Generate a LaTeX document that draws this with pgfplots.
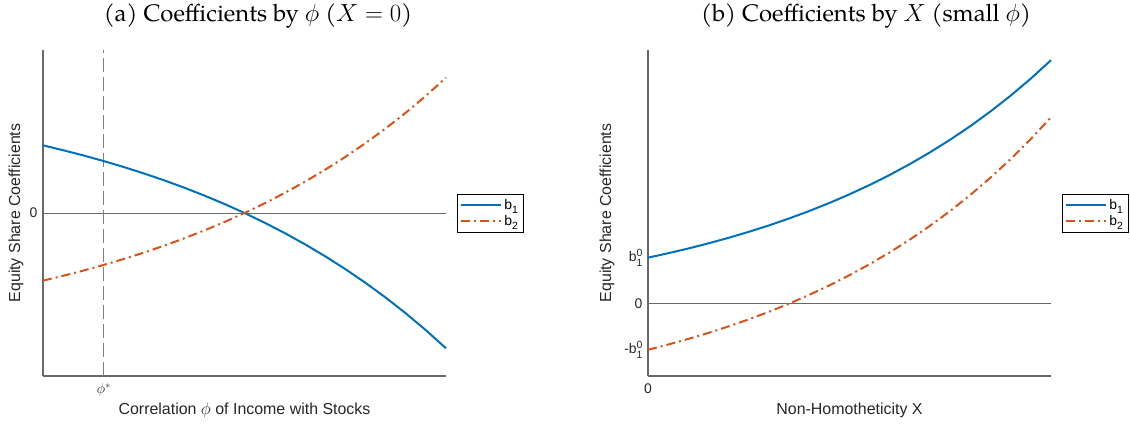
\documentclass[border=0pt]{standalone}
\usepackage{pgfplots}
\pgfplotsset{compat=1.18}
\usepackage{pgfplotstable}
\usepackage{amsmath}
\usepackage{fontspec}
\setmainfont{Liberation Sans}
\newfontfamily\titlefont{TeX Gyre Pagella}
\definecolor{mblue}{RGB}{0,114,189}
\definecolor{morange}{RGB}{217,83,25}
\definecolor{axgray}{RGB}{105,105,105}
\definecolor{txtgray}{RGB}{38,38,38}
\newcommand\lsub[1]{\raisebox{-4bp}{\fontsize{10.5}{12}\selectfont #1}}
\newcommand\bz{b\rlap{\raisebox{5bp}{\fontsize{10.5}{12}\selectfont 0}}\raisebox{-4.5bp}{\fontsize{10.5}{12}\selectfont 1}}

\pgfplotstableread{
x b1 b2
0 0.415 -0.415
0.05 0.3852 -0.3852
0.1 0.3533 -0.3533
0.15 0.3191 -0.3191
0.2 0.2824 -0.2824
0.25 0.2431 -0.2431
0.3 0.2010 -0.2010
0.35 0.1558 -0.1558
0.4 0.1074 -0.1074
0.45 0.0556 -0.0556
0.5 0 0
0.55 -0.0596 0.0596
0.6 -0.1234 0.1234
0.65 -0.1919 0.1919
0.7 -0.2652 0.2652
0.75 -0.3438 0.3438
0.8 -0.4280 0.4280
0.85 -0.5183 0.5183
0.9 -0.6151 0.6151
0.95 -0.7188 0.7188
1.0 -0.83 0.83
}\lefttab

\pgfplotstableread{
x b1 b2
0 1.000 -1.000
0.05 1.096 -0.887
0.1 1.199 -0.765
0.15 1.311 -0.634
0.2 1.431 -0.493
0.25 1.561 -0.340
0.3 1.700 -0.176
0.35 1.851 0.001
0.4 2.013 0.192
0.45 2.188 0.398
0.5 2.376 0.620
0.55 2.579 0.859
0.6 2.798 1.116
0.65 3.034 1.394
0.7 3.289 1.694
0.75 3.563 2.016
0.8 3.858 2.364
0.85 4.177 2.739
0.9 4.520 3.143
0.95 4.890 3.579
1.0 5.289 4.048
}\righttab

\pgfplotsset{
  mystyle/.style={
    width=403bp, height=326bp, scale only axis,
    axis x line=bottom, axis y line=left,
    axis line style={-, axgray, line width=1.1bp},
    major tick length=0pt,
    xmin=0, xmax=1,
    tick label style={font=\fontsize{14}{16}\selectfont, text=txtgray},
    label style={font=\fontsize{16}{19}\selectfont, text=txtgray},
    xticklabel style={yshift=-4bp},
    yticklabel style={xshift=-2bp},
    xlabel style={at={(axis description cs:0.5,0)}, anchor=center, yshift=-34bp},
    legend style={at={(axis description cs:1,0.5)}, anchor=west, xshift=11bp,
      draw=black, line width=0.8bp, fill=white,
      font=\fontsize{14}{16}\selectfont, inner xsep=3bp, inner ysep=3bp,
      row sep=1bp},
    legend cell align=left,
    legend image code/.code={\draw[#1] (0bp,0bp) -- (40bp,0bp);},
    clip=false,
  },
  b1style/.style={mblue, line width=2bp},
  b2style/.style={morange, line width=2bp, dash pattern=on 9bp off 4bp on 2bp off 4bp},
}

\begin{document}
\begin{tikzpicture}
\path[use as bounding box] (0,0) rectangle (1130bp,425bp);

\node[font=\titlefont\fontsize{24}{28}\selectfont, anchor=base] at (258bp,403bp) {(a) Coefficients by $\phi$ ($X=0$)};
\node[font=\titlefont\fontsize{24}{28}\selectfont, anchor=base] at (866bp,403bp) {(b) Coefficients by $X$ (small $\phi$)};

\begin{axis}[mystyle, at={(43bp,49bp)}, anchor=south west,
  ymin=-1, ymax=1,
  xtick={0.151}, xticklabels={$\phi^*$},
  ytick={0}, yticklabels={0},
  xlabel={Correlation $\phi$ of Income with Stocks},
  ylabel={Equity Share Coefficients},
  ylabel style={at={(axis description cs:-0.067,0.5)}, anchor=center, rotate=0},
]
\addplot[forget plot, axgray, line width=0.8bp] coordinates {(0,0) (1,0)};
\addplot[forget plot, gray, line width=1bp, dash pattern=on 14bp off 5bp] coordinates {(0.151,-1) (0.151,1)};
\addplot[b1style] table[x=x,y=b1] {\lefttab};
\addlegendentry{b\lsub{1}}
\addplot[b2style] table[x=x,y=b2] {\lefttab};
\addlegendentry{b\lsub{2}}
\end{axis}

\begin{axis}[mystyle, at={(648bp,49bp)}, anchor=south west,
  ymin=-1.57, ymax=5.51,
  xtick={0}, xticklabels={0},
  ytick={-1,0,1}, yticklabels={-\bz, 0, \bz},
  xlabel={Non-Homotheticity X},
  ylabel={Equity Share Coefficients},
  ylabel style={at={(axis description cs:-0.1017,0.5)}, anchor=center, rotate=0},
]
\addplot[forget plot, axgray, line width=0.8bp] coordinates {(0,0) (1,0)};
\addplot[b1style] table[x=x,y=b1] {\righttab};
\addlegendentry{b\lsub{1}}
\addplot[b2style] table[x=x,y=b2] {\righttab};
\addlegendentry{b\lsub{2}}
\end{axis}
\end{tikzpicture}
\end{document}
